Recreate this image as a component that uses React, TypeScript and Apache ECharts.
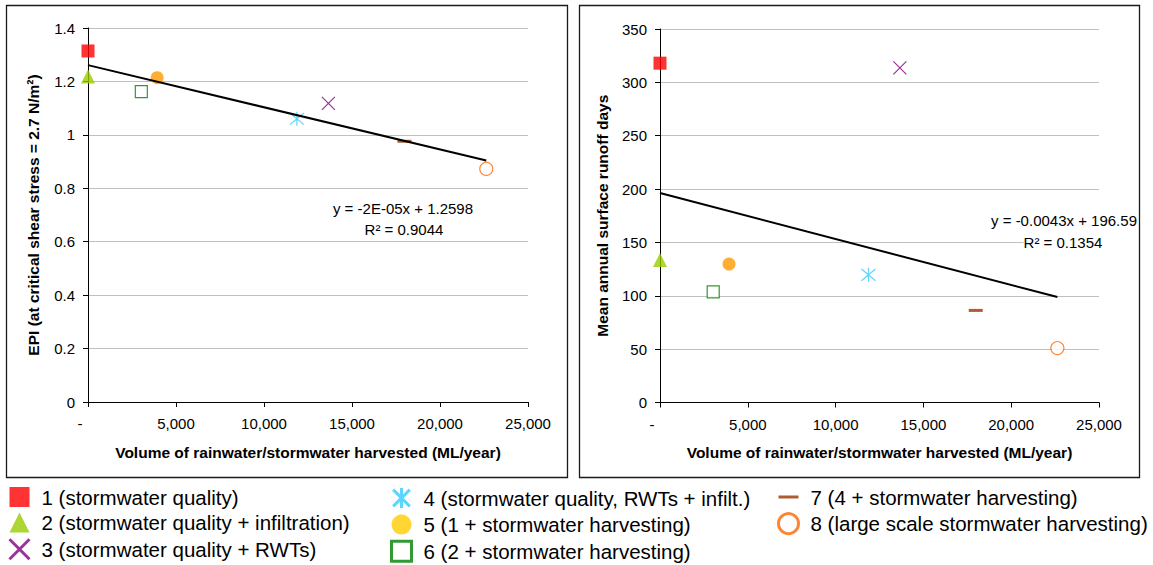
import React, { useEffect, useRef } from 'react';
import * as echarts from 'echarts';

// ---------- data ----------
const scenarios = [
  '1 (stormwater quality)',
  '2 (stormwater quality + infiltration)',
  '3 (stormwater quality + RWTs)',
  '4 (stormwater quality, RWTs + infilt.)',
  '5 (1 + stormwater harvesting)',
  '6 (2 + stormwater harvesting)',
  '7 (4 + stormwater harvesting)',
  '8 (large scale stormwater harvesting)',
];
const harvestVolume = [0, 0, 13660, 11870, 3930, 3030, 17980, 22630];
const epiValues = [1.314, 1.218, 1.118, 1.06, 1.214, 1.162, 0.976, 0.873];
const runoffDays = [318, 133.5, 313.5, 119.6, 129.7, 103.7, 86.3, 51];
const volumeTicks = [0, 5000, 10000, 15000, 20000, 25000];
const epiTicks = [0, 0.2, 0.4, 0.6, 0.8, 1, 1.2, 1.4];
const runoffTicks = [0, 50, 100, 150, 200, 250, 300, 350];
const epiTrendText = ['y = -2E-05x + 1.2598', 'R² = 0.9044'];
const runoffTrendText = ['y = -0.0043x + 196.59', 'R² = 0.1354'];
const xTitle = 'Volume of rainwater/stormwater harvested (ML/year)';
const epiTitle = 'EPI (at critical shear stress = 2.7 N/m²)';
const runoffTitle = 'Mean annual surface runoff days';
const legendColumns = [[0, 1, 2], [3, 4, 5], [6, 7]];

// ---------- styles ----------
const FONT = "'Liberation Sans', Arial, Helvetica, sans-serif";
const X_PATH = 'path://M0,0L10,10M10,0L0,10';
const STAR_PATH = 'path://M0,0L10,10M10,0L0,10M5,-1L5,11';
const DASH_ICON = 'path://M0,0M20,20M0,8.5L20,8.5L20,11.5L0,11.5Z';

const markerStyles: any[] = [
  { symbol: 'rect', size: 13, item: { color: '#FF0000' }, legendIcon: 'rect', legendItem: { color: '#FF0000' } },
  { symbol: 'triangle', size: 14, item: { color: '#99CC00' }, legendIcon: 'triangle', legendItem: { color: '#99CC00' } },
  {
    symbol: X_PATH, size: 13,
    item: { color: 'transparent', borderColor: '#800080', borderWidth: 1.2 },
    legendIcon: X_PATH, legendItem: { color: 'transparent', borderColor: '#800080', borderWidth: 3 },
  },
  {
    symbol: STAR_PATH, size: 14,
    item: { color: 'transparent', borderColor: '#33CCFF', borderWidth: 1.2 },
    legendIcon: STAR_PATH, legendItem: { color: 'transparent', borderColor: '#33CCFF', borderWidth: 3 },
  },
  { symbol: 'circle', size: 13, item: { color: '#FF9900' }, legendIcon: 'circle', legendItem: { color: '#FFCC00' } },
  {
    symbol: 'rect', size: 12,
    item: { color: '#FFFFFF', borderColor: '#008000', borderWidth: 1.2 },
    legendIcon: 'rect', legendItem: { color: '#FFFFFF', borderColor: '#008000', borderWidth: 3 },
  },
  { symbol: 'rect', size: [14, 3], item: { color: '#993300' }, legendIcon: DASH_ICON, legendItem: { color: '#993300' } },
  {
    symbol: 'circle', size: 13,
    item: { color: '#FFFFFF', borderColor: '#FF6600', borderWidth: 1.2 },
    legendIcon: 'circle', legendItem: { color: '#FFFFFF', borderColor: '#FF6600', borderWidth: 3 },
  },
];

function fitLine(xs: number[], ys: number[]) {
  const n = xs.length;
  const mx = xs.reduce((a, b) => a + b, 0) / n;
  const my = ys.reduce((a, b) => a + b, 0) / n;
  let sxy = 0;
  let sxx = 0;
  for (let i = 0; i < n; i++) {
    sxy += (xs[i] - mx) * (ys[i] - my);
    sxx += (xs[i] - mx) * (xs[i] - mx);
  }
  const slope = sxy / sxx;
  const intercept = my - slope * mx;
  const x0 = Math.min(...xs);
  const x1 = Math.max(...xs);
  return [
    [x0, intercept + slope * x0],
    [x1, intercept + slope * x1],
  ];
}

const makeXAxis = (gridIndex: number) => ({
  gridIndex,
  type: 'value',
  min: volumeTicks[0],
  max: volumeTicks[volumeTicks.length - 1],
  interval: volumeTicks[1] - volumeTicks[0],
  name: xTitle,
  nameLocation: 'middle',
  nameGap: 42,
  nameTextStyle: { fontFamily: FONT, fontSize: 15.5, fontWeight: 'bold', color: '#000' },
  axisLine: { show: true, onZero: false, lineStyle: { color: '#000', width: 1 } },
  axisTick: { show: true, length: 5, lineStyle: { color: '#000', width: 1 } },
  axisLabel: {
    fontFamily: FONT,
    fontSize: 15,
    color: '#000',
    margin: 14,
    formatter: (v: number) => (v === 0 ? '{dash|-}' : v.toLocaleString('en-US')),
    rich: { dash: { fontFamily: FONT, fontSize: 15, color: '#000', padding: [0, 16, 0, 0] } },
  },
  splitLine: { show: false },
});

const makeYAxis = (gridIndex: number, ticks: number[], name: string, gap: number) => ({
  gridIndex,
  type: 'value',
  min: ticks[0],
  max: ticks[ticks.length - 1],
  interval: ticks[1] - ticks[0],
  name,
  nameLocation: 'middle',
  nameGap: gap,
  nameTextStyle: { fontFamily: FONT, fontSize: 15.5, fontWeight: 'bold', color: '#000' },
  axisLine: { show: true, onZero: false, lineStyle: { color: '#000', width: 1 } },
  axisTick: { show: true, length: 5, lineStyle: { color: '#000', width: 1 } },
  axisLabel: {
    fontFamily: FONT,
    fontSize: 15,
    color: '#000',
    margin: 13,
    formatter: (v: number) => String(Number(v.toFixed(2))),
  },
  splitLine: { show: true, lineStyle: { color: '#c0c0c0', width: 1 } },
});

const scatterSeries = (gridIndex: number, values: number[]) =>
  scenarios.map((name, i) => ({
    name,
    type: 'scatter',
    xAxisIndex: gridIndex,
    yAxisIndex: gridIndex,
    symbol: markerStyles[i].symbol,
    symbolSize: markerStyles[i].size,
    itemStyle: markerStyles[i].item,
    emphasis: { disabled: true },
    z: 3,
    data: [[harvestVolume[i], values[i]]],
  }));

const trendSeries = (gridIndex: number, values: number[]) => ({
  type: 'line',
  xAxisIndex: gridIndex,
  yAxisIndex: gridIndex,
  data: fitLine(harvestVolume, values),
  symbol: 'none',
  silent: true,
  lineStyle: { color: '#000', width: 2 },
  z: 4,
});

const legendLefts = [8, 390, 777];

const option: any = {
  animation: false,
  backgroundColor: '#ffffff',
  grid: [
    { left: 88, top: 28, width: 440, height: 374 },
    { left: 660, top: 29, width: 439, height: 373.5 },
  ],
  xAxis: [makeXAxis(0), makeXAxis(1)],
  yAxis: [makeYAxis(0, epiTicks, epiTitle, 47), makeYAxis(1, runoffTicks, runoffTitle, 50)],
  legend: legendColumns.map((col, ci) => ({
    orient: 'vertical',
    left: legendLefts[ci],
    top: 486.5,
    height: 100,
    padding: 0,
    itemWidth: 20,
    itemHeight: 20,
    itemGap: 4.6,
    selectedMode: false,
    textStyle: { fontFamily: FONT, fontSize: 20.5, color: '#000', lineHeight: 20, padding: [0, 0, 0, 7] },
    data: col.map((i) => ({
      name: scenarios[i],
      icon: markerStyles[i].legendIcon,
      itemStyle: markerStyles[i].legendItem,
    })),
  })),
  series: [
    ...scatterSeries(0, epiValues),
    ...scatterSeries(1, runoffDays),
    trendSeries(0, epiValues),
    trendSeries(1, runoffDays),
  ],
  graphic: [
    {
      type: 'rect',
      shape: { x: 6.5, y: 5.5, width: 561, height: 472 },
      style: { fill: 'none', stroke: '#1a1a1a', lineWidth: 1.3 },
      silent: true,
    },
    {
      type: 'rect',
      shape: { x: 579.5, y: 5.5, width: 560, height: 472 },
      style: { fill: 'none', stroke: '#1a1a1a', lineWidth: 1.3 },
      silent: true,
    },
    {
      type: 'text',
      x: 403,
      y: 208,
      z: 100,
      style: { text: epiTrendText[0], fontFamily: FONT, fontSize: 15, fill: '#000', textAlign: 'center', textVerticalAlign: 'middle' },
    },
    {
      type: 'text',
      x: 404,
      y: 229,
      z: 100,
      style: { text: epiTrendText[1], fontFamily: FONT, fontSize: 15, fill: '#000', textAlign: 'center', textVerticalAlign: 'middle' },
    },
    {
      type: 'text',
      x: 1064,
      y: 220.5,
      z: 100,
      style: { text: runoffTrendText[0], fontFamily: FONT, fontSize: 15, fill: '#000', textAlign: 'center', textVerticalAlign: 'middle' },
    },
    {
      type: 'text',
      x: 1063,
      y: 242.5,
      z: 100,
      style: {
        text: runoffTrendText[1], fontFamily: FONT, fontSize: 15, fill: '#000',
        textAlign: 'center', textVerticalAlign: 'middle', backgroundColor: '#ffffff', padding: [1, 0, 1, 0],
      },
    },
  ],
};

export default function App() {
  const ref = useRef<HTMLDivElement>(null);
  useEffect(() => {
    if (!ref.current) return;
    const chart = echarts.init(ref.current, undefined, { renderer: 'svg' });
    chart.setOption(option);
    return () => chart.dispose();
  }, []);
  return (
    <div style={{ position: 'absolute', left: 0, top: 0, width: 1153, height: 565, overflow: 'hidden' }}>
      <div ref={ref} style={{ width: 1153, height: 620 }} />
    </div>
  );
}
